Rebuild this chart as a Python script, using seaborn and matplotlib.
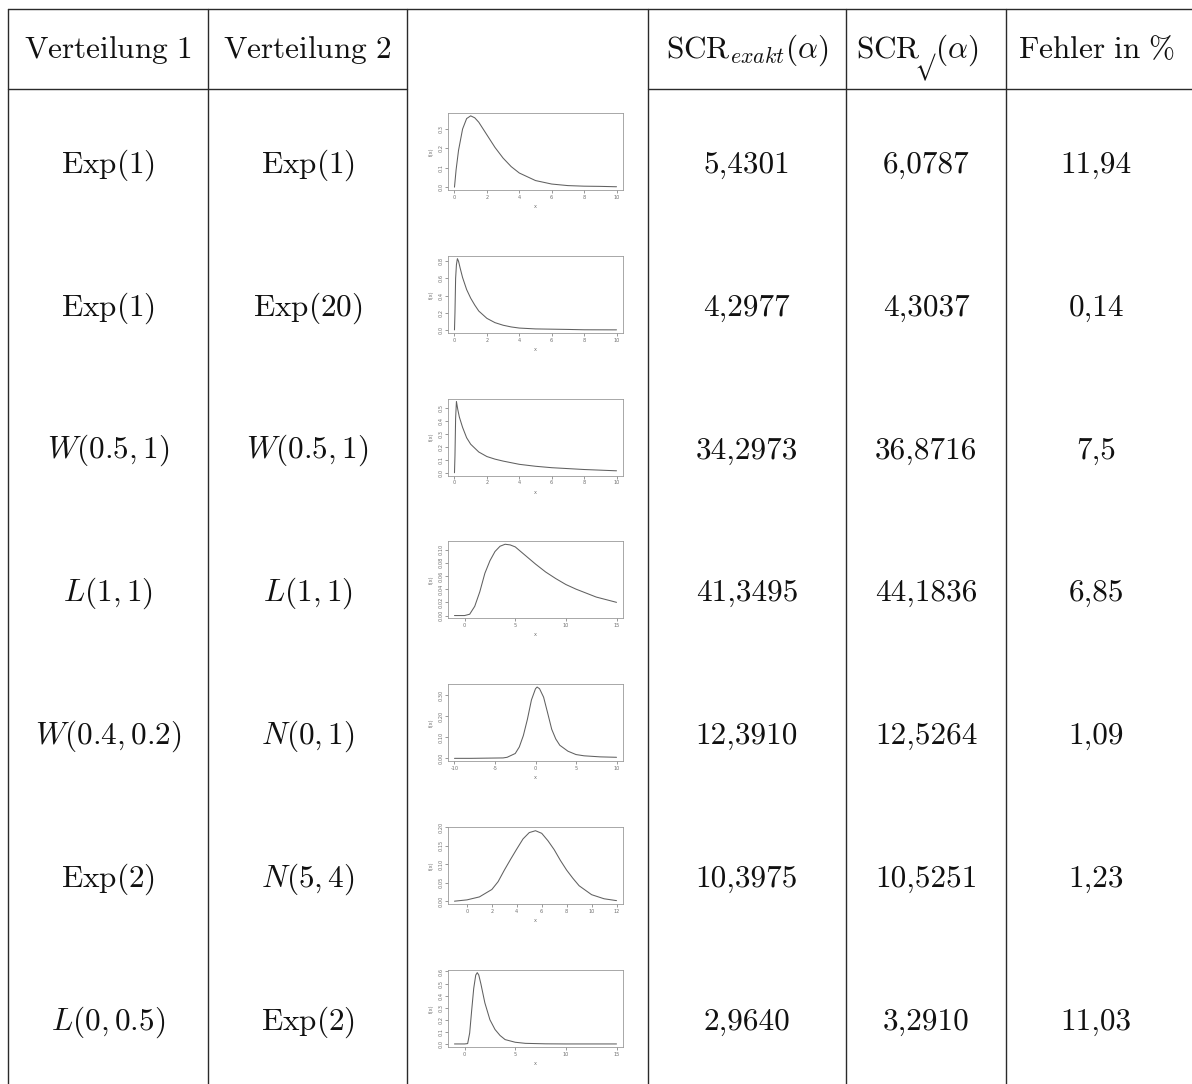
import matplotlib
matplotlib.use("Agg")
import matplotlib.pyplot as plt
import seaborn as sns

sns.set_style("white")
plt.rcParams["mathtext.fontset"] = "cm"
plt.rcParams["axes.unicode_minus"] = False

# ---- table contents ----
header = [r"$\mathrm{Verteilung\ 1}$", r"$\mathrm{Verteilung\ 2}$", "",
          r"$\mathrm{SCR}_{exakt}(\alpha)$", None,
          r"$\mathrm{Fehler\ in\ \%}$"]
# the fifth header is set in three pieces: SCR, a lowered root sign, (alpha)
header5 = [r"$\mathrm{SCR}$", r"$√$", r"$(\alpha)$"]
dist1 = [r"$\mathrm{Exp}(1)$", r"$\mathrm{Exp}(1)$", r"$W(0.5,1)$", r"$L(1,1)$",
         r"$W(0.4,0.2)$", r"$\mathrm{Exp}(2)$", r"$L(0,0.5)$"]
dist2 = [r"$\mathrm{Exp}(1)$", r"$\mathrm{Exp}(20)$", r"$W(0.5,1)$", r"$L(1,1)$",
         r"$N(0,1)$", r"$N(5,4)$", r"$\mathrm{Exp}(2)$"]
scr_exakt = ["5,4301", "4,2977", "34,2973", "41,3495", "12,3910", "10,3975", "2,9640"]
scr_sqrt = ["6,0787", "4,3037", "36,8716", "44,1836", "12,5264", "10,5251", "3,2910"]
fehler = ["11,94", "0,14", "7,5", "6,85", "1,09", "1,23", "11,03"]

# ---- density curves of the sums ----
d1_x = [0, 0.1, 0.25, 0.5, 0.75, 1, 1.25, 1.5, 2, 2.5, 3, 3.5, 4, 5, 6, 7, 8, 9, 10]
d1_y = [0, 0.09, 0.19, 0.30, 0.354, 0.368, 0.358, 0.335, 0.27, 0.205, 0.15, 0.106,
        0.073, 0.034, 0.016, 0.008, 0.005, 0.004, 0.002]
d1_xt = [0, 2, 4, 6, 8, 10]
d1_yt = [0.0, 0.1, 0.2, 0.3]

d2_x = [0, 0.03, 0.07, 0.12, 0.18, 0.25, 0.35, 0.5, 0.75, 1, 1.25, 1.5, 2, 2.5, 3,
        3.5, 4, 5, 6, 7, 8, 10]
d2_y = [0, 0.2, 0.6, 0.76, 0.83, 0.80, 0.72, 0.61, 0.47, 0.37, 0.29, 0.22, 0.135,
        0.085, 0.055, 0.035, 0.022, 0.012, 0.009, 0.006, 0.002, 0.001]
d2_xt = [0, 2, 4, 6, 8, 10]
d2_yt = [0.0, 0.2, 0.4, 0.6, 0.8]

d3_x = [0, 0.03, 0.07, 0.12, 0.2, 0.3, 0.5, 0.75, 1, 1.5, 2, 2.5, 3, 4, 5, 6, 7, 8,
        9, 10]
d3_y = [0, 0.13, 0.42, 0.55, 0.49, 0.43, 0.35, 0.27, 0.22, 0.16, 0.125, 0.105,
        0.09, 0.065, 0.05, 0.039, 0.032, 0.025, 0.02, 0.015]
d3_xt = [0, 2, 4, 6, 8, 10]
d3_yt = [0.0, 0.1, 0.2, 0.3, 0.4, 0.5]

d4_x = [-1, 0, 0.5, 1, 1.5, 2, 2.5, 3, 3.5, 4, 4.5, 5, 6, 7, 8, 9, 10, 11, 12, 13,
        14, 15]
d4_y = [0, 0, 0.002, 0.014, 0.036, 0.064, 0.083, 0.097, 0.105, 0.108, 0.107, 0.104,
        0.091, 0.078, 0.066, 0.056, 0.047, 0.040, 0.034, 0.028, 0.024, 0.020]
d4_xt = [0, 5, 10, 15]
d4_yt = [0.00, 0.02, 0.04, 0.06, 0.08, 0.10]

d5_x = [-10, -8, -6, -4, -3.5, -2.5, -2, -1.5, -1, -0.5, 0, 0.2, 0.5, 1, 1.5, 2,
        2.5, 3, 4, 5, 6, 8, 10]
d5_y = [0, 0, 0.001, 0.002, 0.005, 0.023, 0.054, 0.108, 0.185, 0.277, 0.33, 0.338,
        0.33, 0.29, 0.215, 0.138, 0.092, 0.062, 0.034, 0.018, 0.012, 0.007, 0.005]
d5_xt = [-10, -5, 0, 5, 10]
d5_yt = [0.00, 0.10, 0.20, 0.30]

d6_x = [-1, 0, 1, 2, 2.5, 3, 3.5, 4, 4.5, 5, 5.5, 6, 6.5, 7, 7.5, 8, 8.5, 9, 10,
        11, 12]
d6_y = [0.0005, 0.004, 0.012, 0.032, 0.053, 0.084, 0.113, 0.141, 0.168, 0.185,
        0.19, 0.183, 0.163, 0.139, 0.11, 0.084, 0.062, 0.042, 0.018, 0.007, 0.002]
d6_xt = [0, 2, 4, 6, 8, 10, 12]
d6_yt = [0.00, 0.05, 0.10, 0.15, 0.20]

d7_x = [-1, 0, 0.3, 0.5, 0.7, 0.9, 1.1, 1.25, 1.4, 1.6, 2, 2.5, 3, 3.5, 4, 5, 6, 8,
        10, 15]
d7_y = [0, 0, 0.003, 0.09, 0.28, 0.46, 0.57, 0.59, 0.57, 0.50, 0.34, 0.20, 0.12,
        0.07, 0.036, 0.014, 0.005, 0.001, 0, 0]
d7_xt = [0, 5, 10, 15]
d7_yt = [0.0, 0.1, 0.2, 0.3, 0.4, 0.5, 0.6]

curves = [(d1_x, d1_y, d1_xt, d1_yt), (d2_x, d2_y, d2_xt, d2_yt),
          (d3_x, d3_y, d3_xt, d3_yt), (d4_x, d4_y, d4_xt, d4_yt),
          (d5_x, d5_y, d5_xt, d5_yt), (d6_x, d6_y, d6_xt, d6_yt),
          (d7_x, d7_y, d7_xt, d7_yt)]

W, H = 1192, 1084
fig = plt.figure(figsize=(W / 100, H / 100), dpi=100)
tab = fig.add_axes([0, 0, 1, 1])
tab.set_xlim(0, W)
tab.set_ylim(H, 0)
tab.axis("off")

col_edges = [8, 208, 407, 648, 846, 1006]
right_edge = W + 5
top, head_bottom = 9, 89
row0, row_step = 165, 142.8
line_kw = dict(color="#2a2a2a", lw=1.0)

for x in col_edges:
    tab.plot([x, x], [top, H + 5], **line_kw)
tab.plot([col_edges[0], right_edge], [top, top], **line_kw)
tab.plot([col_edges[0], col_edges[2]], [head_bottom, head_bottom], **line_kw)
tab.plot([col_edges[3], right_edge], [head_bottom, head_bottom], **line_kw)

centers = [(col_edges[i] + col_edges[i + 1]) / 2 for i in range(5)] + [1096]
fs = 22.5
head_base = 58
for c, txt in zip(centers, header):
    if txt:
        tab.text(c, head_base, txt, ha="center", va="baseline", fontsize=fs,
                 color="#111")
tab.text(856, head_base, header5[0], ha="left", va="baseline", fontsize=fs,
         color="#111")
tab.text(925, 52, header5[1], ha="center", va="top", fontsize=15.5, color="#111")
tab.text(935, head_base, header5[2], ha="left", va="baseline", fontsize=fs,
         color="#111")

for r in range(7):
    y = row0 + r * row_step
    tab.text(centers[0], y, dist1[r], ha="center", va="center", fontsize=fs, color="#111")
    tab.text(centers[1], y, dist2[r], ha="center", va="center", fontsize=fs, color="#111")
    for c, col in zip(centers[3:], (scr_exakt, scr_sqrt, fehler)):
        tab.text(c, y, col[r], ha="center", va="center", fontsize=fs,
                 family="cmr10", color="#111")

# small R-style density plots in the third column
box_x0, box_w, box_h = 448, 175, 77
box_top0 = 113
grey = "#707070"
for r, (xs, ys, xt, yt) in enumerate(curves):
    btop = box_top0 + r * row_step
    ax = fig.add_axes([box_x0 / W, 1 - (btop + box_h) / H, box_w / W, box_h / H])
    sns.lineplot(x=xs, y=ys, ax=ax, color="#606060", lw=0.75, sort=False,
                 estimator=None)
    xr = max(xs) - min(xs)
    ax.set_xlim(min(xs) - 0.04 * xr, max(xs) + 0.04 * xr)
    yr = max(ys) - min(ys)
    ax.set_ylim(min(ys) - 0.04 * yr, max(ys) + 0.04 * yr)
    ax.set_xticks(xt)
    ax.set_yticks(yt)
    ax.set_xticklabels([f"{v:g}" for v in xt], fontsize=3.6, color=grey)
    ax.set_yticklabels([f"{v:.2f}" if r in (3, 4, 5) else f"{v:.1f}" for v in yt],
                       fontsize=3.6, color=grey, rotation=90, va="center")
    ax.tick_params(length=2, width=0.5, color=grey, pad=1.5,
                   bottom=True, left=True)
    ax.set_xlabel("x", fontsize=3.6, color=grey, labelpad=3)
    ax.set_ylabel("f(x)", fontsize=3.6, color=grey, labelpad=3)
    for s in ax.spines.values():
        s.set_color("#9a9a9a")
        s.set_linewidth(0.6)
    ax.set_facecolor("white")

fig.savefig("out.png", dpi=100)
